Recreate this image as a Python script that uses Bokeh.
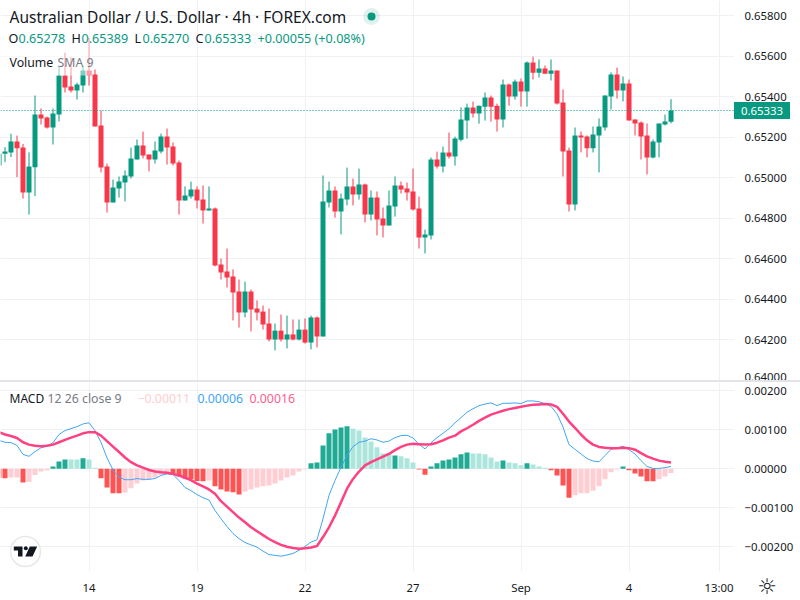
from bokeh.plotting import figure
from bokeh.layouts import column
from bokeh.models import (ColumnDataSource, FixedTicker, LinearAxis, Grid, Span, Label,
                          BoxAnnotation, Range1d, Div, PrintfTickFormatter, CustomJSTickFormatter)
from bokeh.embed import file_html
from bokeh.resources import INLINE

# prices in units of 0.00001
opens = [65061,65119,65126,65180,65150,64928,65053,65313,65298,65249,65313,65506,65451,65432,65456,65530,65511,65259,65056,64879,
         64948,64977,65007,65091,65160,65116,65091,65130,65205,65155,65076,64888,64908,64943,64893,64839,64849,64572,64538,64513,
         64439,64335,64439,64355,64340,64281,64202,64246,64202,64227,64202,64251,64187,64311,64217,64879,64938,64834,64893,64958,
         64918,64967,64819,64903,64800,64765,64859,64963,64948,64933,64849,64706,64716,65091,65056,65125,65106,65189,65283,65348,
         65318,65352,65397,65357,65288,65461,65402,65476,65427,65570,65520,65540,65515,65530,65373,65136,64869,65210,65205,65146,
         65210,65249,65402,65511,65432,65466,65289,65274,65210,65101,65175,65264,65278]
highs = [65160,65152,65218,65209,65168,65126,65407,65343,65303,65343,65547,65619,65595,65470,65552,65693,65535,65333,65071,64992,
         65007,65037,65150,65190,65229,65116,65180,65219,65244,65175,65086,64958,64982,64958,64963,64958,64854,64602,64651,64548,
         64498,64488,64449,64395,64370,64355,64281,64325,64320,64301,64301,64306,64320,64316,65012,64982,64958,64923,65051,64997,
         65046,64972,64938,64933,64854,64938,65007,64982,64977,65046,64908,64745,65101,65130,65155,65224,65204,65348,65367,65377,
         65357,65422,65407,65367,65486,65466,65486,65491,65575,65599,65585,65555,65585,65530,65437,65150,65249,65229,65210,65254,
         65294,65407,65521,65545,65501,65486,65289,65279,65269,65190,65269,65313,65389]
lows = [65061,65078,65103,65004,64898,64819,64910,65264,65244,65165,65279,65422,65422,65387,65422,65456,65254,65027,64829,64879,
        64903,64884,64997,65091,65096,65032,65071,65121,65066,65061,64819,64888,64898,64849,64775,64839,64563,64498,64459,64296,
        64261,64311,64242,64296,64251,64192,64148,64192,64158,64197,64197,64182,64153,64163,64217,64854,64804,64721,64864,64864,
        64893,64780,64790,64716,64706,64765,64809,64923,64888,64839,64651,64627,64696,65046,65027,65096,65061,65180,65194,65298,
        65268,65283,65278,65229,65249,65357,65387,65352,65352,65486,65496,65515,65481,65362,65007,64834,64839,65126,65101,65126,
        65027,65234,65338,65392,65378,65284,65210,65091,65017,65096,65101,65259,65270]
closes = [65119,65130,65180,65147,64928,65056,65313,65293,65249,65318,65506,65447,65432,65461,65530,65506,65254,65051,64879,64953,
          64982,65012,65096,65160,65111,65091,65135,65205,65150,65071,64889,64913,64943,64888,64839,64849,64567,64533,64508,64434,
          64335,64439,64350,64335,64276,64202,64246,64202,64227,64202,64251,64187,64311,64217,64884,64938,64834,64898,64958,64918,
          64967,64819,64903,64795,64765,64864,64963,64943,64928,64844,64706,64721,65091,65056,65125,65106,65195,65288,65348,65318,
          65357,65397,65352,65288,65461,65402,65476,65427,65570,65520,65540,65515,65530,65367,65131,64869,65210,65200,65146,65215,
          65254,65407,65511,65432,65466,65284,65269,65205,65101,65180,65269,65279,65333]

# MACD values in units of 0.00001
hist = [-23,-24,-22,-22,-35,-34,-16,-7,-4,6,19,24,24,24,27,24,3,-24,-48,-63,
        -63,-61,-50,-38,-30,-27,-22,-15,-10,-12,-20,-25,-27,-31,-32,-30,-45,-53,-58,-60,
        -66,-58,-53,-48,-45,-43,-38,-30,-22,-17,-7,-1,14,16,60,91,101,106,109,103,
        98,80,70,55,39,39,34,32,27,16,-2,-15,6,14,21,24,29,37,42,39,
        39,37,29,19,21,16,14,9,14,11,6,3,-4,-17,-43,-74,-68,-63,-63,-56,
        -45,-27,-9,-2,6,-4,-12,-20,-32,-32,-27,-20,-11]
hist_light = [0,0,1,1,0,1,1,1,1,0,0,0,1,1,0,1,1,0,0,0,
              0,1,1,1,1,1,1,1,1,0,0,0,0,0,0,1,0,0,0,0,
              0,1,1,1,1,1,1,1,1,1,1,1,0,0,0,0,0,0,0,1,
              1,1,1,1,1,1,0,1,1,1,0,0,0,0,0,0,0,0,0,1,
              1,1,1,1,0,1,1,1,0,1,1,1,0,0,0,0,1,1,1,1,
              1,1,1,1,0,0,0,0,0,0,1,1,1]
macd_line = [73,68,67,60,37,32,44,54,58,67,88,98,103,108,115,118,98,68,28,-3,
             -21,-28,-28,-25,-27,-27,-25,-17,-13,-15,-30,-48,-56,-66,-74,-80,-107,-128,-148,-166,
             -179,-189,-195,-201,-211,-220,-222,-224,-221,-217,-209,-199,-188,-182,-128,-68,-30,4,34,57,
             68,71,77,74,68,71,80,85,86,79,63,51,67,80,91,103,118,131,145,154,
             162,166,169,162,168,168,169,167,174,174,172,167,160,141,107,62,50,38,26,20,
             18,34,50,53,58,49,38,21,6,1,1,3,6]
signal_line = [94,88,84,79,68,62,59,58,59,62,68,74,80,85,91,94,94,85,71,57,
               43,29,17,9,3,-3,-7,-9,-10,-13,-17,-23,-29,-38,-45,-53,-64,-83,-97,-111,
               -125,-137,-150,-160,-170,-180,-188,-195,-200,-203,-205,-204,-202,-198,-175,-150,-120,-86,-51,-26,
               -7,9,17,24,31,38,48,56,62,64,63,62,63,67,73,80,85,96,104,113,
               123,131,139,144,149,153,156,159,162,164,165,166,165,159,141,121,105,88,73,62,
               56,54,53,53,54,53,49,40,32,26,21,18,16]

price_ticks = [0.640,0.642,0.644,0.646,0.648,0.650,0.652,0.654,0.656,0.658]
macd_ticks = [-0.002,-0.001,0.0,0.001,0.002]
time_ticks = [15,33,51,69,87,105,120]
time_labels = ["14","19","22","27","Sep","4","13:00"]

GREEN, RED = "#089981", "#f7374a"
GRID = "#f0f1f4"
TEXT = "#131722"
FONT = "Noto Sans"
N = len(closes)
idx = list(range(N))
S = 1e-5

W_FRAME, H_PRICE, H_MACD = 734, 380, 189
x_range = Range1d(0.25, 122.58)

p = figure(width=800, height=380, frame_width=W_FRAME, frame_height=H_PRICE, output_backend="svg",
           toolbar_location=None, x_axis_type=None, y_axis_type=None, x_range=x_range,
           y_range=Range1d(0.639996, 0.658762), min_border=0, min_border_right=66,
           outline_line_color=None, background_fill_color="white", margin=0)
yax = LinearAxis(ticker=FixedTicker(ticks=price_ticks), formatter=PrintfTickFormatter(format="%.5f"))
p.add_layout(yax, "right")
p.add_layout(Grid(dimension=1, ticker=FixedTicker(ticks=price_ticks), grid_line_color=GRID))
p.add_layout(Grid(dimension=0, ticker=FixedTicker(ticks=time_ticks), grid_line_color=GRID))

colors = [GREEN if c >= o else RED for o, c in zip(opens, closes)]
src = ColumnDataSource(dict(x=idx, o=[v*S for v in opens], h=[v*S for v in highs], l=[v*S for v in lows],
                            c=[v*S for v in closes], color=colors,
                            top=[max(a, b)*S for a, b in zip(opens, closes)],
                            bot=[min(a, b)*S for a, b in zip(opens, closes)]))
p.segment("x", "h", "x", "l", color="color", line_width=1, source=src)
p.vbar("x", 5/6, "top", "bot", fill_color="color", line_color=None, source=src)
p.add_layout(Span(location=closes[-1]*S, dimension="width", line_color=GREEN, line_dash="1 2", line_width=1))

px_x = lambda px: 0.25 + px/6
px_y = lambda py: 0.658762 - py*(0.658762-0.639996)/380
p.add_layout(BoxAnnotation(left=px_x(0), right=px_x(91), top=px_y(27), bottom=px_y(75),
                           fill_color="white", fill_alpha=0.5, line_color=None))
p.scatter([px_x(371)], [px_y(16)], size=17, fill_color=GREEN, fill_alpha=0.13, line_color=None)
p.scatter([px_x(371)], [px_y(16)], size=8, fill_color=GREEN, line_color=None)

def lab(fig, frame_h, x, y, text, color=TEXT, size=13, **kw):
    fig.add_layout(Label(x=x, y=frame_h - y, x_units="screen", y_units="screen", text=text, text_color=color,
                         text_font=kw.pop("font", FONT), text_font_size=f"{size}px", text_baseline="middle", **kw))

lab(p, H_PRICE, 9, 16, "Australian Dollar / U.S. Dollar · 4h · FOREX.com", size=15.5)
for x, t, c in [(8,"O",TEXT),(18,"0.65278",GREEN),(71,"H",TEXT),(81,"0.65389",GREEN),(134,"L",TEXT),(142,"0.65270",GREEN),
                (195,"C",TEXT),(204,"0.65333",GREEN),(257,"+0.00055 (+0.08%)",GREEN)]:
    lab(p, H_PRICE, x, 38, t, c, 12.6)
lab(p, H_PRICE, 9, 62, "Volume", size=12.3)
lab(p, H_PRICE, 57, 62, "SMA 9", "#787b86", 12.3)

sep = Div(width=800, height=2, margin=0, styles={"background": "#e2e4ea"})

m_top, m_bot = (468.3-382)/39000, (468.3-571)/39000
m = figure(width=800, height=218, frame_width=W_FRAME, frame_height=H_MACD, output_backend="svg",
           toolbar_location=None, x_axis_type=None, y_axis_type=None, x_range=x_range,
           y_range=Range1d(m_bot, m_top), min_border=0, min_border_right=66, min_border_bottom=29,
           outline_line_color=None, background_fill_color="white", margin=0)
m_yax = LinearAxis(ticker=FixedTicker(ticks=macd_ticks),
                   formatter=CustomJSTickFormatter(code="return (tick < 0 ? '\u2212' : '') + Math.abs(tick).toFixed(5)"))
m.add_layout(m_yax, "right")
xax = LinearAxis(ticker=FixedTicker(ticks=time_ticks),
                 major_label_overrides={t: l for t, l in zip(time_ticks, time_labels)})
m.add_layout(xax, "below")
m.add_layout(Grid(dimension=1, ticker=FixedTicker(ticks=macd_ticks), grid_line_color=GRID))
m.add_layout(Grid(dimension=0, ticker=FixedTicker(ticks=time_ticks), grid_line_color=GRID))

for ax in (yax, m_yax, xax):
    ax.axis_line_color = None
    ax.major_tick_line_color = None
    ax.minor_tick_line_color = None
    ax.major_tick_out = 0
    ax.major_tick_in = 0
    ax.major_label_text_font = FONT
    ax.major_label_text_font_size = "11.4px"
    ax.major_label_text_color = TEXT
    ax.major_label_standoff = 10
xax.major_label_standoff = 8

hc = []
for v, light in zip(hist, hist_light):
    if v >= 0:
        hc.append("#ace5dc" if light else "#22ab94")
    else:
        hc.append("#ffcdd2" if light else "#ff5252")
m.vbar(idx, 5/6, [v*S for v in hist], 0, fill_color=hc, line_color=None)
m.line(idx, [v*S for v in macd_line], line_color="#42a5f5", line_width=1)
m.line(idx, [v*S for v in signal_line], line_color="#ff4081", line_width=2.5)

mx = lambda px: 0.25 + px/6
my = lambda py: m_top - (py-382)*(m_top-m_bot)/189
m.scatter([mx(25)], [my(551)], size=30, fill_color="white", line_color="#e8e8e8", line_width=1.5)
m.patches([[mx(13.3),mx(22),mx(22),mx(17.5),mx(17.5),mx(13.3)],
           [mx(29.3),mx(36.7),mx(32),mx(24.7)]],
          [[my(546),my(546),my(556),my(556),my(550),my(550)],
           [my(546),my(546),my(556),my(556)]], fill_color=TEXT, line_color=None)
m.scatter([mx(25.3)], [my(547.7)], size=4, fill_color=TEXT, line_color=None)

lab(m, H_MACD, 9, 16, "MACD", size=12)
for x, t, c in [(47,"12 26 close 9","#787b86"),(137,"\u22120.00011","#ffcdd2"),(197,"0.00006","#42a5f5"),(249,"0.00016","#ff5c8d")]:
    lab(m, H_MACD, x, 16, t, c, 12.3)

tag = Div(text="0.65333", width=56, height=17, margin=0,
          styles={"position": "absolute", "left": "734px", "top": "102px", "background": GREEN, "color": "white",
                  "font": "11.4px 'Noto Sans'", "line-height": "17px", "text-align": "center"})
sun = Div(text="\u263c", width=24, height=24, margin=0,
          styles={"position": "absolute", "left": "755px", "top": "575px", "color": TEXT,
                  "font": "22px 'DejaVu Sans'", "line-height": "24px", "text-align": "center"})

layout = column(p, sep, m, tag, sun, spacing=0, margin=0)
open("out.html", "w").write(file_html(layout, INLINE))
